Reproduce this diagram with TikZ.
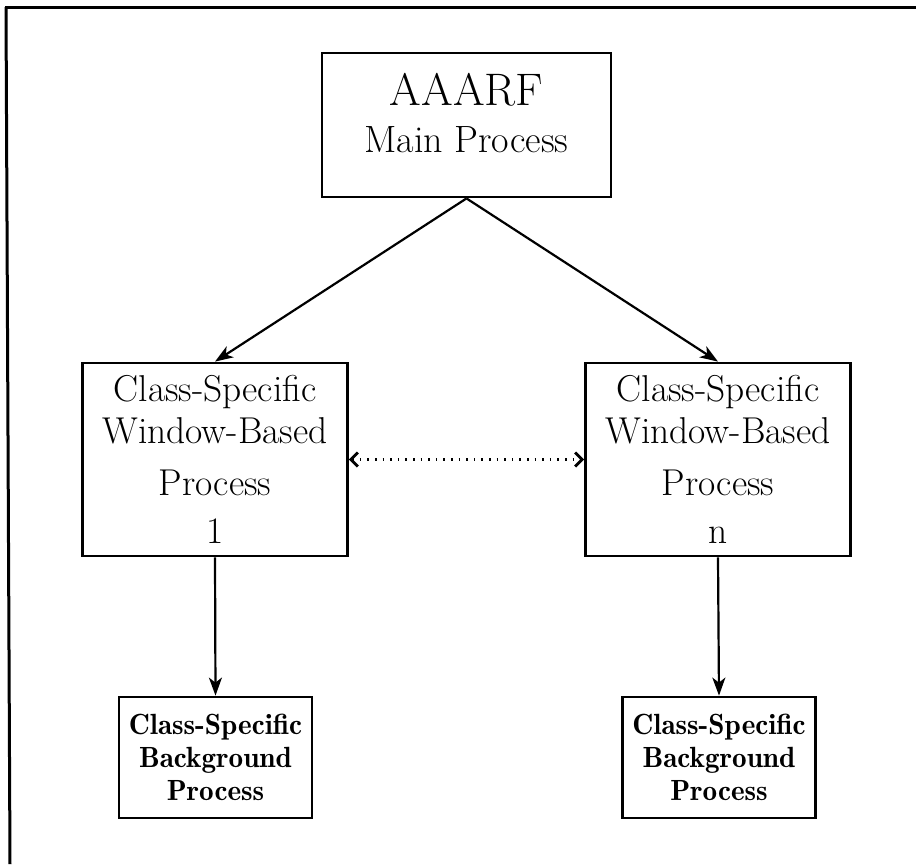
\documentclass[tikz,border=0pt]{standalone}
\usetikzlibrary{arrows.meta}
\begin{document}
\begin{tikzpicture}[x=0.5pt,y=-0.5pt,
  box/.style={draw, line width=1.4pt, inner sep=0pt, align=center},
  midbox/.style={box, minimum width=132.5pt, minimum height=96.5pt,
    font=\fontsize{18.7}{21}\selectfont},
  bgbox/.style={box, minimum width=96.5pt, minimum height=60.5pt,
    font=\fontsize{14.6}{16.5}\fontseries{b}\selectfont},
  conn/.style={line width=1.1pt, -{Stealth[length=9pt,width=6.5pt,inset=2.5pt]}},
  peer/.style={line width=1.2pt, dash pattern=on 0.8pt off 3pt,
    {Straight Barb[length=3.5pt,width=7pt,line width=1.4pt]}-{Straight Barb[length=3.5pt,width=7pt,line width=1.4pt]}},
  frame/.style={line width=1.5pt}
]
\useasboundingbox (0,0) rectangle (916,864);
\fill[white] (0,0) rectangle (916,864);
% outer frame (only top and left edges visible)
\draw[frame] (5,7) -- (916,7);
\draw[frame] (6,7) -- (10,864);

% main process
\node[box, minimum width=144.5pt, minimum height=72pt] (main) at (466.5,125) {};
\node[align=center, font=\fontsize{19}{23.5}\selectfont] (maintext) at (466.5,113.5)
  {{\fontsize{22.8}{23.5}\selectfont AAARF}\\Main Process};

% window-based processes
\node[midbox] (w1) at (215,459.5) {Class-Specific\\Window-Based\\[5pt]Process\\[3pt]1};
\node[midbox] (wn) at (718,459.5) {Class-Specific\\Window-Based\\[5pt]Process\\[3pt]n};

% background processes
\node[bgbox] (b1) at (215.5,757.5) {Class-Specific\\Background\\Process};
\node[bgbox] (bn) at (719,757.5) {Class-Specific\\Background\\Process};

% connectors
\draw[conn] (main.south) -- (w1.north);
\draw[conn] (main.south) -- (wn.north);
\draw[conn] (w1.south) -- (b1.north);
\draw[conn] (wn.south) -- (bn.north);
\draw[peer] (w1.east) -- (wn.west);
\end{tikzpicture}
\end{document}
